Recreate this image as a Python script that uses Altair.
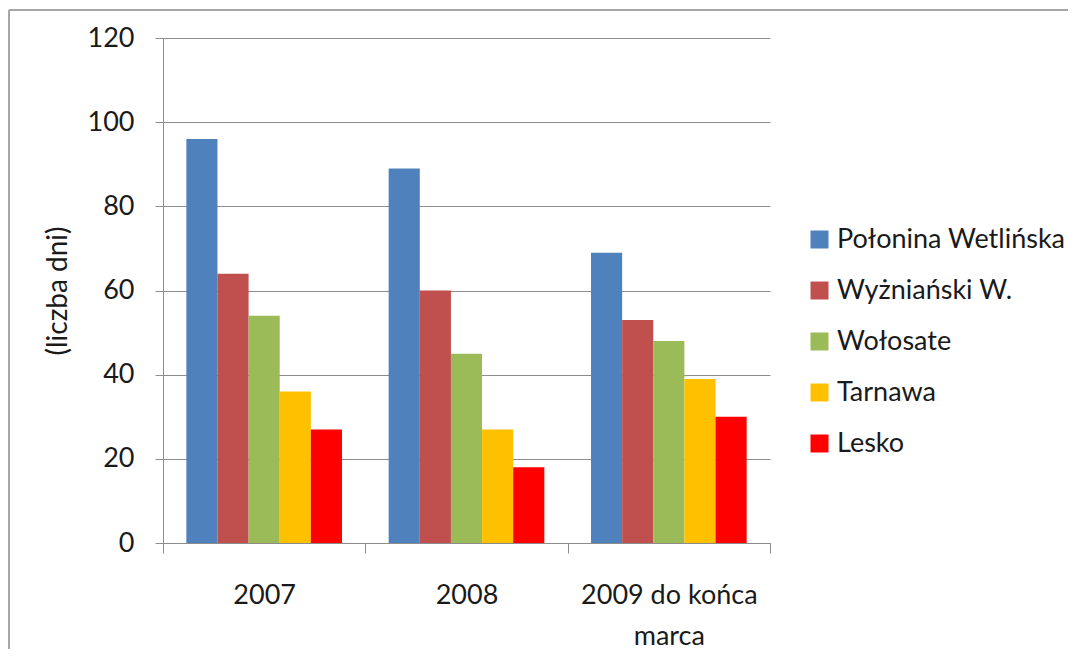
import altair as alt
import pandas as pd

years = ["2007", "2008", "2009 do końca marca"]
stations = ["Połonina Wetlińska", "Wyżniański W.", "Wołosate", "Tarnawa", "Lesko"]
colors = ["#4F81BD", "#C0504D", "#9BBB59", "#FFC000", "#FF0000"]

polonina = [96, 89, 69]
wyzniański = [64, 60, 53]
wolosate = [54, 45, 48]
tarnawa = [36, 27, 39]
lesko = [27, 18, 30]

series = [polonina, wyzniański, wolosate, tarnawa, lesko]
rows = []
for s, vals in zip(stations, series):
    for y, v in zip(years, vals):
        rows.append({"rok": y, "stacja": s, "dni": v})
df = pd.DataFrame(rows)

FONT = "Lato"
GRAY = "#8C8C8C"
TEXT = "#1a1a1a"

bars = alt.Chart(df).mark_bar().encode(
    x=alt.X("rok:N", sort=years,
            scale=alt.Scale(paddingInner=0, paddingOuter=0),
            axis=alt.Axis(title=None, labelAngle=0, tickBand="extent",
                          tickSize=10, tickColor=GRAY, domainColor=GRAY,
                          labelFont=FONT, labelFontSize=27, labelColor=TEXT,
                          labelPadding=29, labelLineHeight=41,
                          labelBaseline="top",
                          labelExpr="datum.label == '2009 do końca marca' ? ['2009 do końca', 'marca'] : datum.label")),
    xOffset=alt.XOffset("stacja:N", sort=stations,
                        scale=alt.Scale(paddingInner=0, paddingOuter=0.75)),
    y=alt.Y("dni:Q",
            scale=alt.Scale(domain=[0, 120], nice=False),
            axis=alt.Axis(title="(liczba dni)", values=[0, 20, 40, 60, 80, 100, 120],
                          tickSize=8, tickColor=GRAY, domainColor=GRAY,
                          gridColor=GRAY, grid=True,
                          labelFont=FONT, labelFontSize=27, labelColor=TEXT,
                          labelPadding=21,
                          titleFont=FONT, titleFontSize=28, titleColor=TEXT,
                          titleFontWeight="normal",
                          titleX=-105, titleBaseline="middle")),
    color=alt.Color("stacja:N", sort=stations,
                    scale=alt.Scale(domain=stations, range=colors),
                    legend=alt.Legend(title=None, orient="none", legendX=643, legendY=188,
                                      symbolType="square", symbolSize=324,
                                      symbolStrokeWidth=0, symbolOpacity=1,
                                      labelFont=FONT, labelFontSize=27, labelColor=TEXT,
                                      labelOffset=4, rowPadding=23, padding=0,
                                      labelLimit=400)),
)

frame_df = pd.DataFrame({"k": [0]})
top_line = alt.Chart(frame_df).mark_rule(color="#A6A6A6", strokeWidth=2).encode(
    x=alt.value(-154), x2=alt.value(905), y=alt.value(-28)
)
left_line = alt.Chart(frame_df).mark_rule(color="#A6A6A6", strokeWidth=2).encode(
    x=alt.value(-154), y=alt.value(-28), y2=alt.value(611)
)

chart = alt.layer(top_line, left_line, bars).properties(
    width=607, height=505,
    autosize=alt.AutoSizeParams(type="none"),
    padding={"left": 155, "top": 30, "right": 300, "bottom": 106},
    background="white",
).configure_view(stroke=None)

chart.save("out.html", embed_options={"renderer": "svg", "actions": False})
